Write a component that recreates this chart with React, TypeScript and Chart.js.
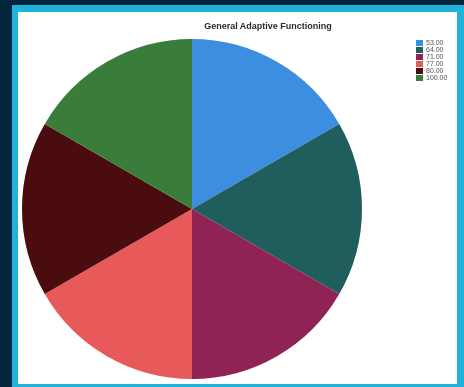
import React, { useEffect, useRef } from "react";
import { Chart, registerables } from "chart.js";

Chart.register(...registerables);

const title = "General Adaptive Functioning";
const categories = ["53.00", "64.00", "71.00", "77.00", "80.00", "100.00"];
const counts = [1, 1, 1, 1, 1, 1];
const colors = ["#3d8ee0", "#1f5e5c", "#8f2454", "#e85a5a", "#4a0c0e", "#3a7d3a"];

export default function App() {
  const ref = useRef<HTMLCanvasElement | null>(null);
  useEffect(() => {
    document.body.style.margin = "0";
    const chart = new Chart(ref.current!, {
      type: "pie",
      data: {
        labels: categories,
        datasets: [{ data: counts, backgroundColor: colors, borderWidth: 0 }],
      },
      options: {
        animation: false,
        responsive: false,
        layout: { padding: { left: 4, top: 27, right: 95, bottom: 5 } },
        plugins: { legend: { display: false }, tooltip: { enabled: false }, title: { display: false } },
      },
    });
    return () => chart.destroy();
  }, []);
  return (
    <div style={{ position: "absolute", left: 0, top: 0, width: 464, height: 387, background: "#03263d", overflow: "hidden" }}>
      <div style={{ position: "absolute", left: 12, top: 5, width: 452, height: 382, background: "#1fb3d9" }} />
      <div style={{ position: "absolute", left: 18, top: 12, width: 439, height: 372, background: "#ffffff" }}>
        <canvas ref={ref} width={439} height={372} style={{ position: "absolute", left: 0, top: 0, width: 439, height: 372 }} />
        <div style={{ position: "absolute", left: 150, top: 9, width: 200, textAlign: "center", fontFamily: "Arial, 'Liberation Sans', sans-serif", fontWeight: "bold", fontSize: 9, color: "#2a2a2a" }}>
          {title}
        </div>
        <div style={{ position: "absolute", left: 398, top: 27, fontFamily: "Arial, 'Liberation Sans', sans-serif", fontSize: 7, color: "#555", lineHeight: "7px" }}>
          {categories.map((c, i) => (
            <div key={c} style={{ display: "flex", alignItems: "center", height: 7 }}>
              <span style={{ display: "inline-block", width: 7, height: 6, background: colors[i], marginRight: 3 }} />
              <span>{c}</span>
            </div>
          ))}
        </div>
      </div>
    </div>
  );
}
